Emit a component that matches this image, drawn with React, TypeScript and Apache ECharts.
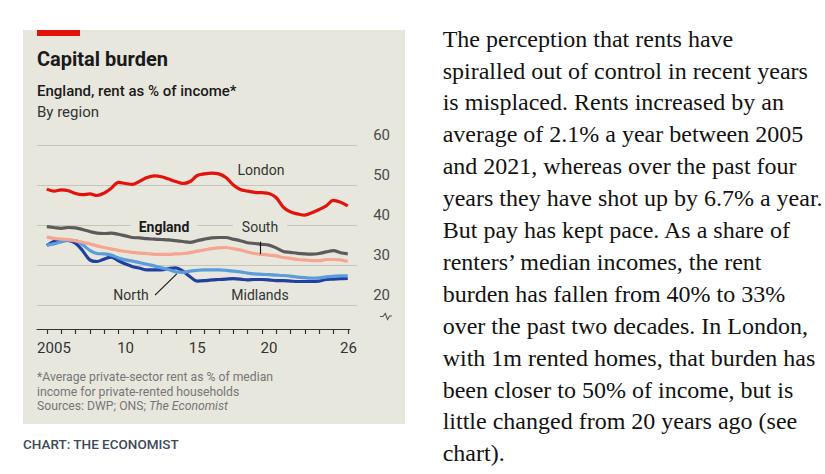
import React, { useEffect, useRef } from "react";
import * as echarts from "echarts";

// ---------- data ----------
const periods = [
  2005, 2005.5, 2006, 2006.5, 2007, 2007.5, 2008, 2008.5, 2009, 2009.5,
  2010, 2010.5, 2011, 2011.5, 2012, 2012.5, 2013, 2013.5, 2014, 2014.5,
  2015, 2015.5, 2016, 2016.5, 2017, 2017.5, 2018, 2018.5, 2019, 2019.5,
  2020, 2020.5, 2021, 2021.5, 2022, 2022.5, 2023, 2023.5, 2024, 2024.5,
  2025, 2025.5, 2026,
];
const london = [
  49.1, 48.6, 48.9, 48.7, 48.0, 47.7, 47.9, 47.5, 48.1, 49.3,
  50.8, 50.5, 50.3, 51.1, 52.0, 52.4, 52.2, 51.6, 51.0, 50.5,
  51.0, 52.5, 52.9, 53.1, 52.9, 52.0, 50.2, 49.0, 48.6, 48.3,
  48.2, 48.0, 47.0, 44.6, 43.4, 42.9, 42.6, 43.2, 44.0, 44.9,
  46.3, 45.8, 44.9,
];
const england = [
  39.7, 39.5, 39.3, 39.5, 39.4, 39.0, 38.5, 38.1, 38.0, 38.1,
  37.8, 37.4, 37.0, 36.9, 36.7, 36.6, 36.5, 36.4, 36.2, 36.0,
  35.8, 36.2, 36.6, 36.9, 37.0, 37.0, 36.6, 36.2, 35.7, 35.5,
  35.3, 35.1, 34.4, 33.5, 33.3, 33.05, 32.9, 32.85, 33.0, 33.4,
  33.7, 33.2, 32.9,
];
const south = [
  37.1, 36.8, 36.6, 36.5, 36.2, 35.8, 35.4, 34.9, 34.5, 34.1,
  33.8, 33.5, 33.3, 33.1, 33.0, 32.8, 32.8, 32.8, 32.9, 33.0,
  33.2, 33.6, 33.9, 34.2, 34.4, 34.5, 34.2, 33.9, 33.4, 33.0,
  32.8, 32.6, 32.4, 32.0, 31.8, 31.5, 31.4, 31.2, 31.2, 31.5,
  31.5, 31.4, 31.0,
];
const north = [
  35.1, 35.4, 35.9, 36.3, 36.2, 35.2, 33.8, 33.0, 32.9, 32.6,
  31.9, 31.4, 31.1, 30.7, 30.3, 29.9, 29.4, 29.0, 28.4, 28.3,
  28.6, 28.8, 28.9, 28.9, 28.9, 28.8, 28.6, 28.4, 28.1, 27.9,
  27.8, 27.7, 27.6, 27.5, 27.35, 27.1, 26.95, 26.85, 26.9, 27.15,
  27.3, 27.4, 27.4,
];
const midlands = [
  35.0, 36.0, 36.4, 36.3, 35.6, 33.7, 31.4, 31.0, 31.6, 32.1,
  31.2, 30.4, 29.7, 29.3, 28.9, 28.9, 28.9, 29.2, 29.4, 28.6,
  27.2, 26.1, 26.2, 26.4, 26.5, 26.6, 26.7, 26.6, 26.4, 26.5,
  26.5, 26.4, 26.2, 26.2, 26.1, 26.0, 26.0, 26.0, 26.1, 26.5,
  26.6, 26.7, 26.8,
];
const xTickYears = [
  2005, 2006, 2007, 2008, 2009, 2010, 2011, 2012, 2013, 2014, 2015,
  2016, 2017, 2018, 2019, 2020, 2021, 2022, 2023, 2024, 2025, 2026,
];
const xLabelValues = [2005.5, 2010.5, 2015.5, 2020.5, 2026.05];
const xLabelTexts = ["2005", "10", "15", "20", "26"];
const yHidden = 10;

const title = "Capital burden";
const subtitle = "England, rent as % of income*";
const subtitle2 = "By region";
const footnote = [
  "*Average private-sector rent as % of median",
  "income for private-rented households",
  "Sources: DWP; ONS; {i|The Economist}",
];
const credit = "CHART: THE ECONOMIST";
const paragraph = [
  "The perception that rents have",
  "spiralled out of control in recent years",
  "is misplaced. Rents increased by an",
  "average of 2.1% a year between 2005",
  "and 2021, whereas over the past four",
  "years they have shot up by 6.7% a year.",
  "But pay has kept pace. As a share of",
  "renters\u2019 median incomes, the rent",
  "burden has fallen from 40% to 33%",
  "over the past two decades. In London,",
  "with 1m rented homes, that burden has",
  "been closer to 50% of income, but is",
  "little changed from 20 years ago (see",
  "chart).",
];

// ---------- style ----------
const BG = "#e8e7de";
const SANS = "Roboto, 'Noto Sans', sans-serif";
const SERIF = "'Liberation Serif', 'DejaVu Serif', serif";
const X_MIN = 2004.316;
const X_MAX = 2026.646;

const pair = (arr: number[]) => periods.map((p, i) => [p, arr[i]]);

const txt = (
  text: string,
  x: number,
  y: number,
  opts: any = {}
) => ({
  type: "text",
  x,
  y,
  silent: true,
  z: 50,
  style: {
    text,
    fill: opts.fill || "#333",
    fontSize: opts.fontSize || 14,
    fontFamily: opts.fontFamily || SANS,
    fontWeight: opts.fontWeight || "normal",
    align: opts.align || "left",
    verticalAlign: "middle",
    textAlign: opts.align || "left",
    textVerticalAlign: "middle",
    backgroundColor: opts.backgroundColor,
    padding: opts.padding,
    rich: opts.rich,
  },
});

export default function App() {
  const ref = useRef<HTMLDivElement>(null);
  useEffect(() => {
    document.body.style.margin = "0";
    const chart = echarts.init(ref.current!, null, { renderer: "svg" });

    const lineSeries = (name: string, data: number[], color: string, extra: any = {}) => ({
      name,
      type: "line",
      xAxisIndex: 0,
      yAxisIndex: 0,
      data: pair(data),
      showSymbol: false,
      smooth: 0.35,
      lineStyle: { color, width: 3.2 },
      itemStyle: { color },
      ...extra,
    });

    const graphic: any[] = [
      { type: "rect", z: -100, silent: true, shape: { x: 23, y: 30, width: 382, height: 394 }, style: { fill: BG } },
      { type: "rect", z: 50, silent: true, shape: { x: 37, y: 30, width: 43, height: 6 }, style: { fill: "#e3120b" } },
      txt(title, 37, 58.7, { fontSize: 20, fontWeight: "bold", fill: "#1a1a1a" }),
      txt(subtitle, 37, 90.5, { fontSize: 15, fontWeight: 500, fill: "#1a1a1a" }),
      txt(subtitle2, 37, 112, { fontSize: 15, fill: "#333" }),
      txt("London", 261, 170, { align: "center", fill: "#333" }),
      txt("England", 164, 226.7, { align: "center", fontWeight: "bold", fill: "#1a1a1a", backgroundColor: BG, padding: [2, 8] }),
      txt("South", 260, 226.7, { align: "center", fill: "#333", backgroundColor: BG, padding: [2, 9] }),
      txt("North", 131, 295, { align: "center", fill: "#333" }),
      txt("Midlands", 260, 295, { align: "center", fill: "#333" }),
      {
        type: "polyline",
        silent: true,
        z: 50,
        shape: { points: [[380, 316.5], [383, 316.5], [385.3, 313.5], [387.5, 319.5], [389.6, 316], [392, 316]] },
        style: { stroke: "#555", lineWidth: 1.1, fill: null },
      },
      ...footnote.map((l, i) =>
        txt(l, 37, 377 + i * 14.7, { fontSize: 12.2, fill: "#767676", rich: { i: { fontStyle: "italic", fontSize: 12.2, fontFamily: SANS, fill: "#767676" } } })
      ),
      txt(credit, 23, 444, { fontSize: 13.5, fontWeight: 500, fill: "#3c4a5a" }),
      ...paragraph.map((l, i) =>
        txt(l, 442.7, 38.6 + i * 31.9, { fontSize: 24, fontFamily: SERIF, fill: "#121212" })
      ),
    ];

    const option: any = {
      animation: false,
      backgroundColor: "#ffffff",
      grid: [
        { left: 37, right: 468, top: 145.5, bottom: 128.5, containLabel: false },
        { left: 37, right: 475.1, top: 300, bottom: 145, containLabel: false },
      ],
      xAxis: [
        { type: "value", gridIndex: 0, min: X_MIN, max: X_MAX, show: false },
        {
          type: "value",
          gridIndex: 1,
          min: X_MIN,
          max: 2026.15,
          position: "bottom",
          axisLine: { show: true, lineStyle: { color: "#333", width: 1.2 } },
          axisTick: { show: true, length: 5, customValues: xTickYears, lineStyle: { color: "#333", width: 1.2 } },
          axisLabel: {
            show: true,
            customValues: xLabelValues,
            formatter: (v: number) => xLabelTexts[xLabelValues.indexOf(v)] ?? "",
            fontSize: 15,
            fontFamily: SANS,
            color: "#333",
            margin: 11,
          },
          splitLine: { show: false },
        },
      ],
      yAxis: [
        {
          type: "value",
          gridIndex: 0,
          position: "right",
          min: 10,
          max: 60,
          interval: 10,
          axisLine: { show: false },
          axisTick: { show: false },
          splitLine: {
            show: true,
            lineStyle: { color: ["transparent", "#c5c5bc", "#c5c5bc", "#c5c5bc", "#c5c5bc", "#c5c5bc"], width: 1 },
          },
          axisLabel: {
            formatter: (v: number) => (v === yHidden ? "" : String(v)),
            align: "right",
            verticalAlign: "bottom",
            padding: [0, 0, 3, 0],
            margin: 33,
            fontSize: 15,
            fontFamily: SANS,
            color: "#4a4a4a",
          },
        },
        { type: "value", gridIndex: 1, min: 0, max: 1, show: false },
      ],
      series: [
        lineSeries("Midlands", midlands, "#203f9f"),
        lineSeries("North", north, "#5b9ddc", {
          markLine: {
            silent: true,
            symbol: ["none", "none"],
            label: { show: false },
            lineStyle: { color: "#111", width: 1.1, type: "solid", curveness: -0.5 },
            data: [[{ coord: [2012.55, 22.6] }, { coord: [2014.07, 27.9] }]],
          },
        }),
        lineSeries("South", south, "#f6a590", {
          markLine: {
            silent: true,
            symbol: ["none", "circle"],
            symbolSize: [0, 5],
            label: { show: false },
            lineStyle: { color: "#111", width: 1.1, type: "solid" },
            itemStyle: { color: "#111" },
            data: [[{ coord: [2019.88, 35.95] }, { coord: [2019.88, 32.85] }]],
          },
        }),
        lineSeries("England", england, "#5b5b5b"),
        lineSeries("London", london, "#e3120b"),
      ],
      graphic,
    };
    chart.setOption(option);
    return () => chart.dispose();
  }, []);
  return (
    <div
      ref={ref}
      style={{ position: "fixed", left: 0, top: 0, width: 825, height: 474, background: "#fff" }}
    />
  );
}
